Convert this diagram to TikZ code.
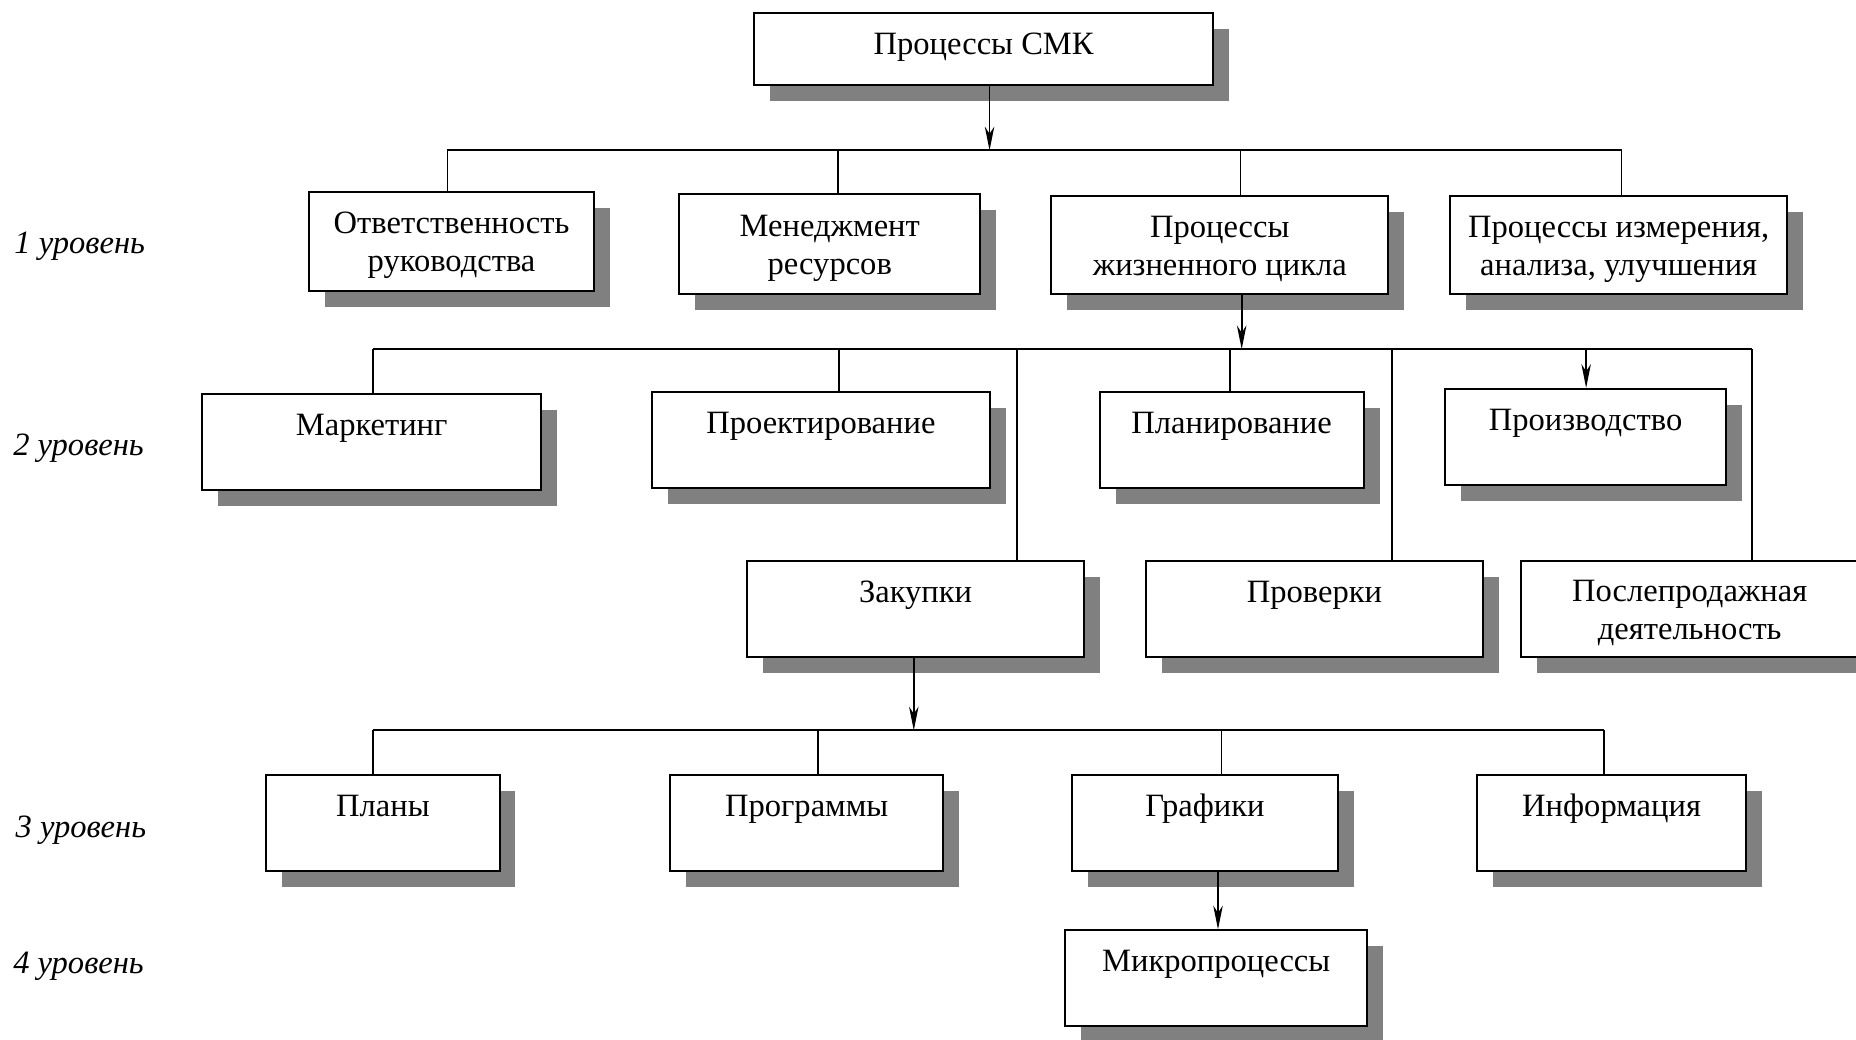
\documentclass[tikz,border=0pt]{standalone}
\usepackage{fontspec}
\setmainfont{Liberation Serif}
\usetikzlibrary{shadows,arrows.meta,calc}

% extra head room on the first line of a two-line box
\newcommand\firstline{\rule{0pt}{25pt}}

\begin{document}
\begin{tikzpicture}[x=1pt,y=-1pt,
  box/.style={draw, fill=white, line width=1.7pt, inner sep=0pt, align=center,
    font=\fontsize{27.5}{32}\selectfont,
    drop shadow={fill=black!50, opacity=1, shadow xshift=13.5pt, shadow yshift=-13.5pt}},
  topbox/.style={box, text height=35pt, text depth=46pt},
  lvl/.style={anchor=west, inner sep=0pt, font=\fontsize{27.5}{32}\selectfont\itshape},
  bus/.style={line width=1.7pt},
  link/.style={line width=1.4pt},
  arr/.style={link, -{Stealth[length=20pt,width=8pt,inset=6pt]}}
]
\useasboundingbox (0,0) rectangle (1568,878);
\clip (0,0) rectangle (1568,878);

% root
\node[box, minimum width=388pt, text height=35pt, text depth=26pt] (smk) at (831,41.5) {Процессы СМК};

% level 1
\node[box, minimum width=241pt, minimum height=84pt] (resp) at (381.5,204) {\firstline Ответственность\\руководства};
\node[box, minimum width=254pt, minimum height=84pt] (res)  at (701,206)   {\firstline Менеджмент\\ресурсов};
\node[box, minimum width=285pt, minimum height=82pt] (life) at (1030.5,207) {\firstline Процессы\\жизненного цикла};
\node[box, minimum width=285pt, minimum height=82pt] (meas) at (1367.5,207) {\firstline Процессы измерения,\\анализа, улучшения};

% level 2
\node[topbox, minimum width=286pt] (mark) at (314,373.5)    {Маркетинг};
\node[topbox, minimum width=285pt] (proj) at (693.5,371.5)  {Проектирование};
\node[topbox, minimum width=223pt] (plan) at (1040.5,371.5) {Планирование};
\node[topbox, minimum width=237pt] (prod) at (1339.5,369)   {Производство};
\node[topbox, minimum width=285pt] (zak)  at (773.5,514.5)  {Закупки};
\node[topbox, minimum width=285pt] (prov) at (1110.5,514.5) {Проверки};
\node[box, minimum width=285pt, minimum height=81pt] (post) at (1427.5,514.5) {\firstline Послепродажная\\деятельность};

% level 3
\node[topbox, minimum width=197pt] (plany) at (323.5,695.5)  {Планы};
\node[topbox, minimum width=231pt] (prog)  at (681.5,695.5)  {Программы};
\node[topbox, minimum width=224pt] (graf)  at (1018,695.5)   {Графики};
\node[topbox, minimum width=227pt] (info)  at (1361.5,695.5) {Информация};

% level 4
\node[topbox, minimum width=255pt] (micro) at (1027.5,826.5) {Микропроцессы};

% level captions
\node[lvl] (l1) at (12,208) {1 уровень};
\node[lvl] (l2) at (11,379) {2 уровень};
\node[lvl] (l3) at (13,701) {3 уровень};
\node[lvl] (l4) at (11,816) {4 уровень};

% first bus
\coordinate (b1a) at (378,127);
\coordinate (b1b) at (1370,127);
\coordinate (t12) at (708,127);
\coordinate (t13) at (1048,127);
\draw[arr] ([xshift=5pt]smk.south) -- ([xshift=5pt]smk.south |- b1a);
\draw[bus] (b1a) -- (b1b);
\draw[link] (b1a) -- (b1a |- resp.north);
\draw[link] (t12) -- (t12 |- res.north);
\draw[link] (t13) -- (t13 |- life.north);
\draw[link] (b1b) -- (b1b |- meas.north);

% second bus
\coordinate (b2a) at (315,295);
\coordinate (b2b) at (1480,295);
\coordinate (b2c) at (1049,295);
\coordinate (t22) at (709,295);
\coordinate (t23) at (859,295);
\coordinate (t24) at (1039,295);
\coordinate (t25) at (1340,295);
\coordinate (t26) at (1176,295);
\draw[arr] (b2c |- life.south) -- (b2c);
\draw[bus] (b2a) -- (b2b);
\draw[link] (b2a) -- (b2a |- mark.north);
\draw[link] (t22) -- (t22 |- proj.north);
\draw[link] (t23) -- (t23 |- zak.north);
\draw[link] (t24) -- (t24 |- plan.north);
\draw[arr]  (t25) -- (t25 |- prod.north);
\draw[link] (t26) -- (t26 |- prov.north);
\draw[link] (b2b) -- (b2b |- post.north);

% third bus
\coordinate (b3a) at (315,617);
\coordinate (b3b) at (1355,617);
\coordinate (b3c) at (772,617);
\coordinate (t32) at (691,617);
\coordinate (t33) at (1032,617);
\draw[arr] (b3c |- zak.south) -- (b3c);
\draw[bus] (b3a) -- (b3b);
\draw[link] (b3a) -- (b3a |- plany.north);
\draw[link] (t32) -- (t32 |- prog.north);
\draw[link] (t33) -- (t33 |- graf.north);
\draw[link] (b3b) -- (b3b |- info.north);

% down to micro-processes
\coordinate (t4) at (1029,760);
\draw[arr] (t4 |- graf.south) -- (t4 |- micro.north);
\end{tikzpicture}
\end{document}
